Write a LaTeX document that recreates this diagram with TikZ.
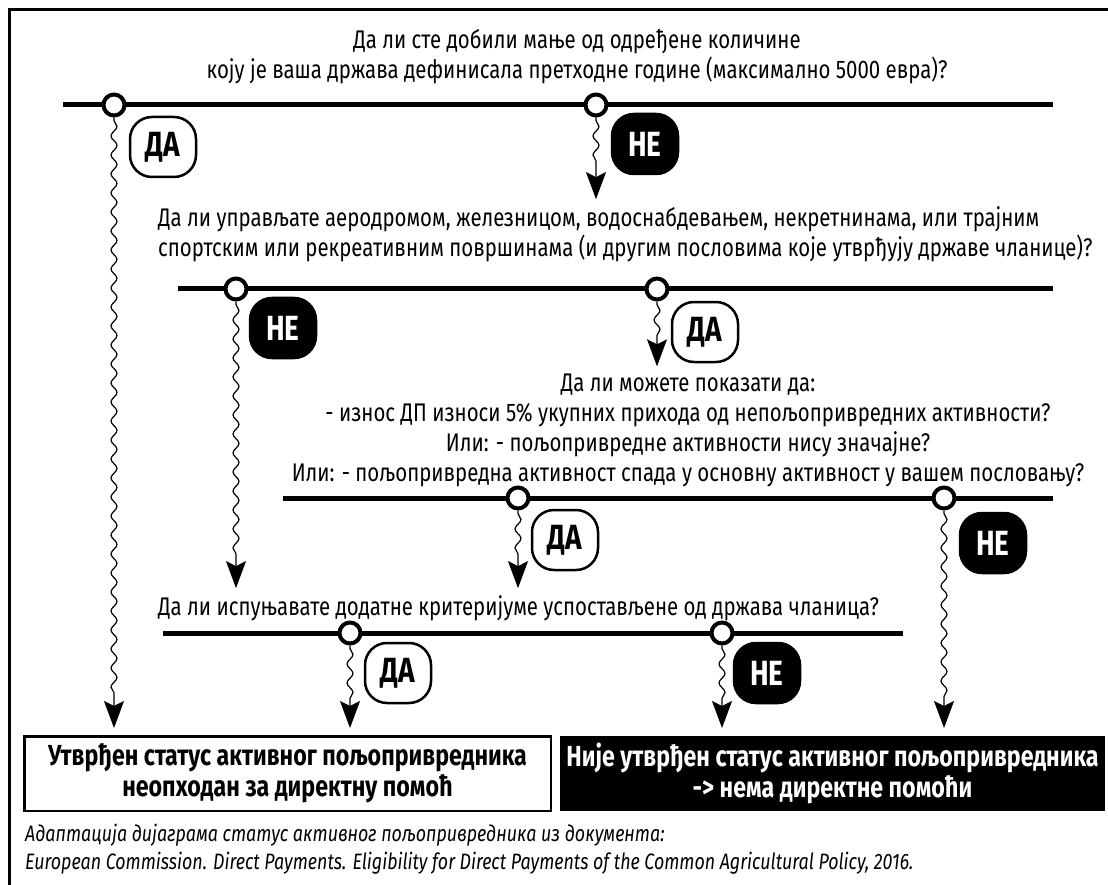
\documentclass[tikz,border=0pt]{standalone}
\usepackage{fontspec}
\setmainfont{Fira Sans}[FakeStretch=0.8]
\usetikzlibrary{arrows.meta, calc, positioning, decorations.pathmorphing}

\begin{document}
\begin{tikzpicture}[x=1pt, y=-1pt, >={Stealth[length=27pt, width=20pt, inset=5pt]},
    font=\fontsize{25.5}{30}\selectfont]
    \tikzstyle{bar} = [line width=5pt]
    \tikzstyle{knot} = [draw, circle, line width=4pt, fill=white, minimum size=21pt,
	inner sep=0pt]
    \tikzstyle{yes} = [draw, line width=2.5pt, rounded corners=22pt, fill=white,
	minimum width=66pt, minimum height=60pt, inner sep=2pt,
	font=\fontsize{35}{35}\selectfont\bfseries]
    \tikzstyle{no} = [yes, fill=black, text=white]
    \tikzstyle{flow} = [->, line width=1.2pt, decorate, shorten >=7pt,
	decoration={snake, amplitude=3pt, segment length=19pt, pre length=3pt, post length=36pt}]
    \tikzstyle{quest} = [inner sep=0pt]
    \tikzstyle{result} = [minimum height=74.5pt, align=center, line width=2.5pt,
	font=\fontsize{29}{31}\selectfont\bfseries]

    \useasboundingbox (0,0) rectangle (1108,885);
    \draw[line width=3pt] (9,885) -- (9,9.5) -- (1108,9.5);

    % questions
    \node[quest, align=center] (q1) at (577,57)
	{Да ли сте добили мање од одређене количине\\
	 коју је ваша држава дефинисала претходне године (максимално 5000 евра)?};
    \node[quest, align=left, anchor=west] (q2) at (158,234)
	{Да ли управљате аеродромом, железницом, водоснабдевањем, некретнинама, или трајним\\
	 спортским или рекреативним површинама (и другим пословима које утврђују државе чланице)?};
    \node[quest, align=center] (q3) at (688,430)
	{Да ли можете показати да:\\
	 - износ ДП износи 5\% укупних прихода од непољопривредних активности?\\
	 Или: - пољопривредне активности нису значајне?\\
	 Или: - пољопривредна активност спада у основну активност у вашем пословању?};
    \node[quest, anchor=west] (q4) at (158,608)
	{Да ли испуњавате додатне критеријуме успостављене од држава чланица?};

    % outcomes
    \node[result, draw, minimum width=526.5pt] (ok) at (287.5,773.5)
	{Утврђен статус активног пољопривредника\\ неопходан за директну помоћ};
    \node[result, fill=black, text=white, minimum width=545pt] (nok) at (832.5,773.5)
	{Није утврђен статус активног пољопривредника\\ -> нема директне помоћи};

    % answer lines
    \coordinate (l1w) at (63,105);  \coordinate (l1e) at (1053,105);
    \coordinate (l2w) at (178,289); \coordinate (l2e) at (1053,289);
    \coordinate (l3w) at (283,498); \coordinate (l3e) at (1053,498);
    \coordinate (l4w) at (163,633); \coordinate (l4e) at (903,633);
    \draw[bar] (l1w) -- (l1e);
    \draw[bar] (l2w) -- (l2e);
    \draw[bar] (l3w) -- (l3e);
    \draw[bar] (l4w) -- (l4e);

    \node[knot] (k1y) at (114,105) {};
    \node[knot] (k1n) at (596,105) {};
    \node[knot] (k2n) at (236,289) {};
    \node[knot] (k2y) at (657,289) {};
    \node[knot] (k3y) at (518,498) {};
    \node[knot] (k3n) at (944,498) {};
    \node[knot] (k4y) at (350,633) {};
    \node[knot] (k4n) at (722,633) {};

    \node[yes] (a1y) at ($(k1y)+(49,42)$) {ДА};
    \node[no]  (a1n) at ($(k1n)+(49,39)$) {НЕ};
    \node[no]  (a2n) at ($(k2n)+(47,39)$) {НЕ};
    \node[yes] (a2y) at ($(k2y)+(48,43)$) {ДА};
    \node[yes] (a3y) at ($(k3y)+(47,42)$) {ДА};
    \node[no]  (a3n) at ($(k3n)+(49,45)$) {НЕ};
    \node[yes] (a4y) at ($(k4y)+(48,40)$) {ДА};
    \node[no]  (a4n) at ($(k4n)+(45,40)$) {НЕ};

    % wavy connectors
    \draw[flow] (k1y) -- (k1y |- ok.north);
    \draw[flow] (k1n) -- (k1n |- q2.north);
    \draw[flow] (k2n) -- (k2n |- q4.north);
    \draw[flow] (k2y) -- (k2y |- q3.north);
    \draw[flow] (k3y) -- (k3y |- q4.north);
    \draw[flow] (k3n) -- (k3n |- nok.north);
    \draw[flow] (k4y) -- (k4y |- ok.north);
    \draw[flow] (k4n) -- (k4n |- nok.north);

    \node[anchor=west, align=left, inner sep=0pt, font=\fontsize{22.3}{28}\selectfont\itshape] (src) at (25,849)
	{Адаптација дијаграма статус активног пољопривредника из документа:\\
	 European Commission. Direct Payments. Eligibility for Direct Payments of the Common Agricultural Policy, 2016.};
\end{tikzpicture}
\end{document}
